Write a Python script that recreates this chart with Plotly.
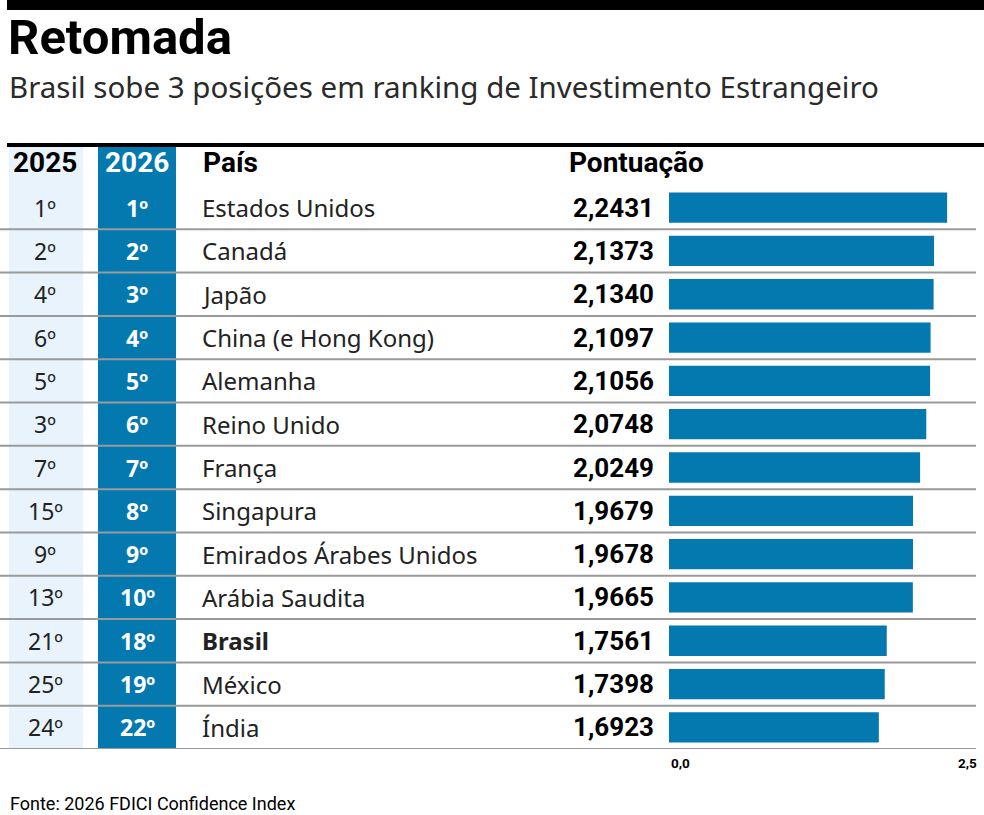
import plotly.graph_objects as go

W, H = 984, 815

countries = ["Estados Unidos", "Canadá", "Japão", "China (e Hong Kong)", "Alemanha",
             "Reino Unido", "França", "Singapura", "Emirados Árabes Unidos",
             "Arábia Saudita", "Brasil", "México", "Índia"]
rank_2025 = ["1º", "2º", "4º", "6º", "5º", "3º", "7º", "15º", "9º", "13º", "21º", "25º", "24º"]
rank_2026 = ["1º", "2º", "3º", "4º", "5º", "6º", "7º", "8º", "9º", "10º", "18º", "19º", "22º"]
scores = [2.2431, 2.1373, 2.1340, 2.1097, 2.1056, 2.0748, 2.0249, 1.9679, 1.9678,
          1.9665, 1.7561, 1.7398, 1.6923]
highlight = "Brasil"
axis_ticks = [0.0, 2.5]

title = "Retomada"
subtitle = "Brasil sobe 3 posições em ranking de Investimento Estrangeiro"
source = "Fonte: 2026 FDICI Confidence Index"
headers = ["2025", "2026", "País", "Pontuação"]

BLUE = "#0479b0"
LIGHT = "#e8f3fb"
TITLE_FONT = "Roboto, sans-serif"
BODY_FONT = "Noto Sans, Open Sans, sans-serif"
NUM_FONT = "Roboto, sans-serif"

def px(x):
    return x / W

def py(y):
    return 1 - y / H

row_top, row_bot = 186, 749

fig = go.Figure()
fig.add_trace(go.Bar(
    x=scores, y=countries, orientation="h",
    marker=dict(color=BLUE, line=dict(width=0)),
    width=0.7, hoverinfo="skip",
))

shapes = []
shapes.append(dict(type="rect", xref="paper", yref="paper", x0=px(7), x1=1, y0=py(10), y1=1,
                   fillcolor="black", line=dict(width=0), layer="above"))
shapes.append(dict(type="rect", xref="paper", yref="paper", x0=px(9), x1=px(83),
                   y0=py(row_bot), y1=py(146), fillcolor=LIGHT, line=dict(width=0), layer="below"))
shapes.append(dict(type="rect", xref="paper", yref="paper", x0=px(98), x1=px(176),
                   y0=py(row_bot), y1=py(146), fillcolor=BLUE, line=dict(width=0), layer="below"))
shapes.append(dict(type="line", xref="paper", yref="paper", x0=px(7), x1=1, y0=py(145), y1=py(145),
                   line=dict(color="black", width=4), layer="above"))
for i in range(len(countries)):
    shapes.append(dict(type="line", xref="paper", yref="y", x0=0, x1=px(976),
                       y0=i + 0.5, y1=i + 0.5, line=dict(color="#9a9a9a", width=2), layer="above"))

ann = []
ann.append(dict(text=f"<b>{title}</b>", x=px(6), y=py(38), xref="paper", yref="paper",
                xanchor="left", yanchor="middle", showarrow=False,
                font=dict(family=TITLE_FONT, size=49, color="black")))
ann.append(dict(text=subtitle, x=px(7), y=py(86), xref="paper", yref="paper",
                xanchor="left", yanchor="middle", showarrow=False,
                font=dict(family=BODY_FONT, size=29.5, color="#2a2a2a")))
ann.append(dict(text=source, x=px(8), y=py(803), xref="paper", yref="paper",
                xanchor="left", yanchor="middle", showarrow=False,
                font=dict(family=NUM_FONT, size=18, color="black")))

hy = py(163)
ann.append(dict(text=f"<b>{headers[0]}</b>", x=px(45), y=hy, xref="paper", yref="paper",
                xanchor="center", yanchor="middle", showarrow=False,
                font=dict(family=NUM_FONT, size=28, color="black")))
ann.append(dict(text=f"<b>{headers[1]}</b>", x=px(137), y=hy, xref="paper", yref="paper",
                xanchor="center", yanchor="middle", showarrow=False,
                font=dict(family=NUM_FONT, size=28, color="white")))
ann.append(dict(text=f"<b>{headers[2]}</b>", x=px(201), y=hy, xref="paper", yref="paper",
                xanchor="left", yanchor="middle", showarrow=False,
                font=dict(family=NUM_FONT, size=28, color="black")))
ann.append(dict(text=f"<b>{headers[3]}</b>", x=px(567), y=hy, xref="paper", yref="paper",
                xanchor="left", yanchor="middle", showarrow=False,
                font=dict(family=NUM_FONT, size=28, color="black")))

for c, r5, r6, s in zip(countries, rank_2025, rank_2026, scores):
    ann.append(dict(text=r5, x=px(45), y=c, xref="paper", yref="y", xanchor="center",
                    yanchor="middle", showarrow=False,
                    font=dict(family=BODY_FONT, size=23, color="#222")))
    ann.append(dict(text=f"<b>{r6}</b>", x=px(137), y=c, xref="paper", yref="y", xanchor="center",
                    yanchor="middle", showarrow=False,
                    font=dict(family=BODY_FONT, size=23, color="white")))
    name = f"<b>{c}</b>" if c == highlight else c
    ann.append(dict(text=name, x=px(200), y=c, xref="paper", yref="y", xanchor="left",
                    yanchor="middle", showarrow=False,
                    font=dict(family=BODY_FONT, size=24, color="#222")))
    ann.append(dict(text="<b>" + f"{s:.4f}".replace(".", ",") + "</b>", x=px(656), y=c,
                    xref="paper", yref="y", xanchor="right", yanchor="middle", showarrow=False,
                    font=dict(family=NUM_FONT, size=26, color="black")))

for t in axis_ticks:
    ann.append(dict(text="<b>" + f"{t:.1f}".replace(".", ",") + "</b>", x=t, y=py(763),
                    xref="x", yref="paper", xanchor="left" if t == 0 else "right",
                    yanchor="middle", showarrow=False,
                    font=dict(family=NUM_FONT, size=13.5, color="black")))

fig.update_layout(
    width=W, height=H, margin=dict(l=0, r=0, t=0, b=0),
    paper_bgcolor="white", plot_bgcolor="rgba(0,0,0,0)",
    showlegend=False, bargap=0.3,
    xaxis=dict(domain=[px(669), px(979)], range=[0, 2.5], showgrid=False, zeroline=False,
               showticklabels=False, fixedrange=True),
    yaxis=dict(domain=[py(row_bot), py(row_top)], range=[len(countries) - 0.5, -0.5],
               type="category", showgrid=False, showticklabels=False, zeroline=False,
               fixedrange=True),
    shapes=shapes, annotations=ann,
)

fig.write_html("out.html", config={"displayModeBar": False},
               post_script="document.body.style.margin='0';document.body.style.overflow='hidden';")
